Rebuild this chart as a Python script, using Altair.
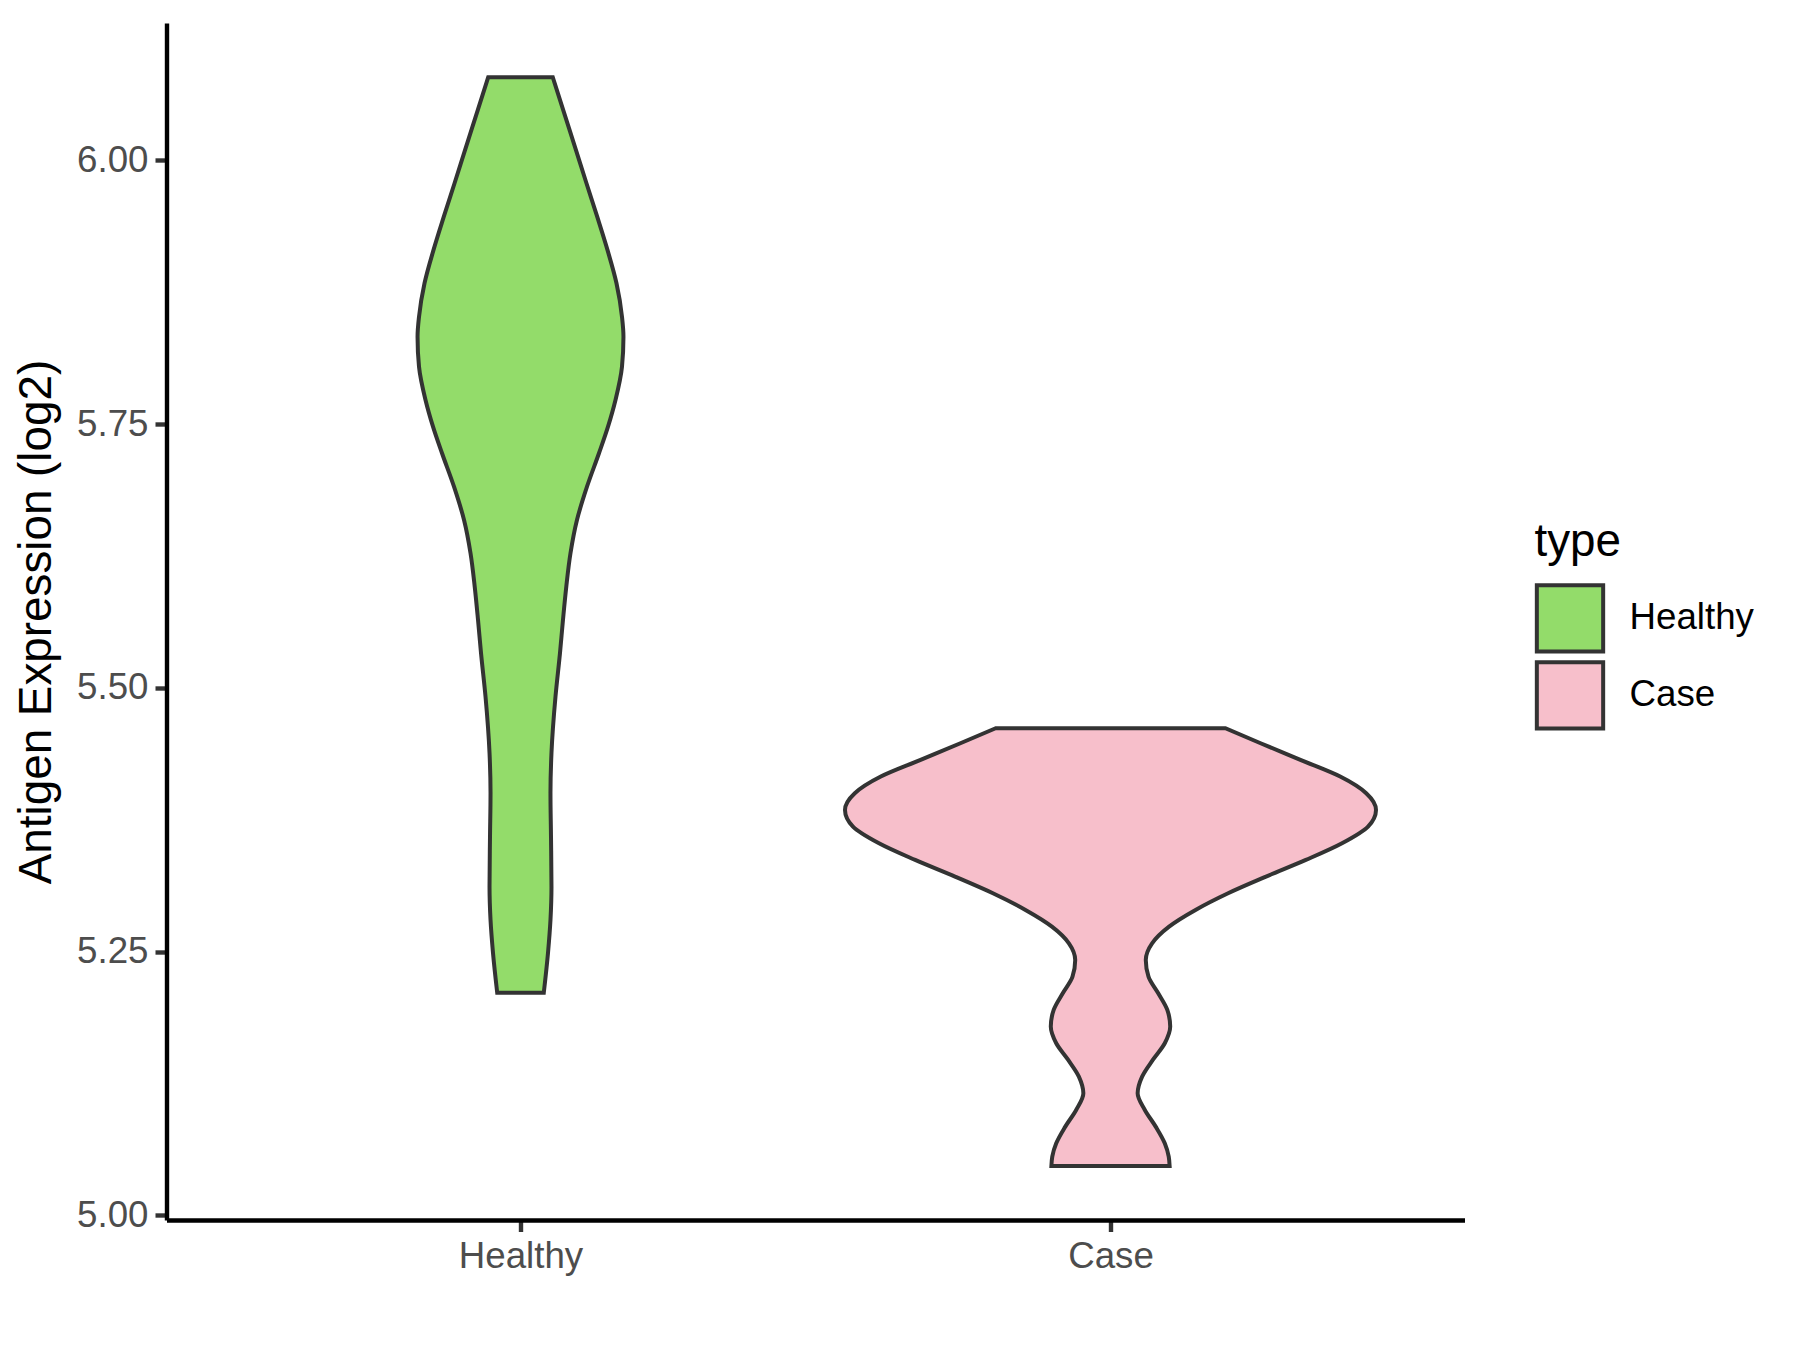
import altair as alt
import pandas as pd

# Category order and colours
categories = ["Healthy", "Case"]
fill_colors = ["#93DC6A", "#F7BFCB"]

# Violin outline of "Healthy": expression value and half-width (in category units)
healthy_y = [6.0789, 6.0479, 6.0100, 5.9784, 5.9467, 5.9152, 5.8836, 5.8519, 5.8330,
             5.8045, 5.7730, 5.7477, 5.7225, 5.6908, 5.6592, 5.6277, 5.5960, 5.5645,
             5.5329, 5.4918, 5.4384, 5.4005, 5.3588, 5.3114, 5.2801, 5.2488, 5.2112]
healthy_hw = [0.0547, 0.0723, 0.0939, 0.1118, 0.1300, 0.1474, 0.1627, 0.1720, 0.1745,
              0.1720, 0.1610, 0.1483, 0.1330, 0.1127, 0.0957, 0.0847, 0.0776, 0.0720,
              0.0669, 0.0593, 0.0525, 0.0508, 0.0517, 0.0525, 0.0508, 0.0466, 0.0395]

# Violin outline of "Case"
case_y = [5.4618, 5.4476, 5.4318, 5.4160, 5.4002, 5.3844, 5.3686, 5.3528, 5.3370,
          5.3212, 5.3054, 5.2896, 5.2738, 5.2580, 5.2422, 5.2264, 5.2106, 5.1948,
          5.1790, 5.1632, 5.1474, 5.1316, 5.1158, 5.1000, 5.0842, 5.0684, 5.0558,
          5.0469]
case_hw = [0.1947, 0.2544, 0.3219, 0.3893, 0.4334, 0.4500, 0.4365, 0.3924, 0.3311,
           0.2636, 0.1993, 0.1441, 0.0993, 0.0705, 0.0598, 0.0644, 0.0809, 0.0963,
           0.1012, 0.0920, 0.0717, 0.0536, 0.0460, 0.0582, 0.0766, 0.0920, 0.0987,
           0.1002]

y_ticks = [5.00, 5.25, 5.50, 5.75, 6.00]

rows = []
for v, w in zip(healthy_y, healthy_hw):
    rows.append({"type": "Healthy", "value": v, "hw": w})
for v, w in zip(case_y, case_hw):
    rows.append({"type": "Case", "value": v, "hw": w})
df = pd.DataFrame(rows)

FONT = "Liberation Sans"

chart = (
    alt.Chart(df)
    .transform_calculate(
        pos="indexof(['Healthy','Case'], datum.type) + 1"
    )
    .transform_calculate(lo="datum.pos - datum.hw", hi="datum.pos + datum.hw")
    .mark_area(orient="horizontal", interpolate="monotone",
               stroke="#333333", strokeWidth=4, opacity=1)
    .encode(
        y=alt.Y("value:Q",
                scale=alt.Scale(domain=[4.9957, 6.1303], nice=False, zero=False),
                axis=alt.Axis(values=y_ticks, format=".2f",
                              title="Antigen Expression (log2)")),
        x=alt.X("lo:Q",
                scale=alt.Scale(domain=[0.4, 2.6], nice=False, zero=False),
                axis=alt.Axis(values=[1, 2], title=None,
                              labelExpr="datum.value == 1 ? 'Healthy' : 'Case'")),
        x2="hi:Q",
        color=alt.Color("type:N",
                        scale=alt.Scale(domain=categories, range=fill_colors),
                        legend=alt.Legend(title="type", orient="none",
                                          legendX=1368, legendY=497,
                                          symbolType="square", symbolSize=4400,
                                          symbolStrokeColor="#333333",
                                          symbolStrokeWidth=4,
                                          symbolOpacity=1,
                                          rowPadding=-13.5, labelOffset=24,
                                          titlePadding=17,
                                          labelFontSize=36.7, labelFont=FONT,
                                          labelColor="black",
                                          titleFontSize=45.8, titleFont=FONT,
                                          titleFontWeight="normal",
                                          titleColor="black")),
        detail="type:N",
    )
    .properties(
        width=1298, height=1197,
        autosize=alt.AutoSizeParams(type="none"),
        padding={"left": 158.5, "top": 15, "right": 320, "bottom": 100},
    )
    .configure_view(stroke=None)
    .configure_axis(
        grid=False,
        domainColor="black", domainWidth=4.4,
        tickColor="#333333", tickWidth=4.4, tickSize=11.5,
        labelFont=FONT, labelFontSize=36.7, labelColor="#4D4D4D",
        labelPadding=7,
        titleFont=FONT, titleFontSize=45.8, titleColor="black",
        titleFontWeight="normal", titlePadding=16,
    )
)

chart.save("out.html", embed_options={"renderer": "svg", "actions": False})
